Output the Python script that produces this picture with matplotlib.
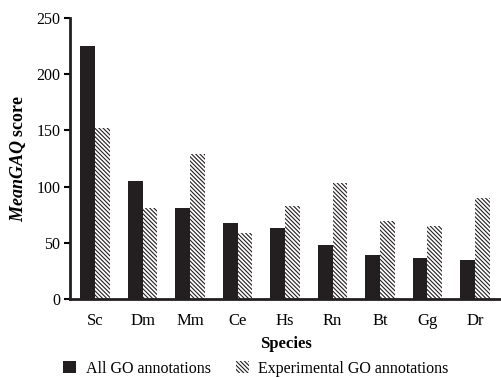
import matplotlib
matplotlib.use("Agg")
import matplotlib.pyplot as plt
import numpy as np
from matplotlib.patches import Patch

plt.rcParams['font.family'] = ['Liberation Serif', 'DejaVu Serif']
plt.rcParams['mathtext.fontset'] = 'custom'
plt.rcParams['mathtext.it'] = 'Liberation Serif:italic:bold'
plt.rcParams['mathtext.rm'] = 'Liberation Serif:bold'
plt.rcParams['hatch.linewidth'] = 0.8

species = ["Sc", "Dm", "Mm", "Ce", "Hs", "Rn", "Bt", "Gg", "Dr"]
all_go = [225, 105, 81, 68, 63, 48, 39, 36.5, 35]
exp_go = [152, 81, 129, 59, 83, 103, 69, 65, 90]
series_names = ["All GO annotations", "Experimental GO annotations"]
yticks = [0, 50, 100, 150, 200, 250]

dark = '#231f20'
HATCH = '\\' * 8

fig = plt.figure(figsize=(5.02, 3.77), dpi=100)
ax = fig.add_axes([70/502, 1-299/377, 1-70/502, (299-18)/377])

x = np.arange(len(species))
w = 0.31
ax.bar(x - w/2, all_go, width=w, color=dark, edgecolor=dark, linewidth=0)
ax.bar(x + w/2, exp_go, width=w, color='white', edgecolor=dark, linewidth=0, hatch=HATCH)

ax.set_xlim(-0.53, 8.57)
ax.set_ylim(0, 250)
ax.set_yticks(yticks)
ax.set_xticks(x)
ax.set_xticklabels(species, fontsize=12)
ax.tick_params(axis='x', length=0, pad=10)
ax.tick_params(axis='y', labelsize=11.5, length=4, width=1.5, direction='out', pad=3)
for s in ['top', 'right']:
    ax.spines[s].set_visible(False)
for s in ['left', 'bottom']:
    ax.spines[s].set_linewidth(2)
    ax.spines[s].set_color(dark)

ax.set_xlabel("Species", fontsize=12, fontweight='bold', labelpad=5)
ax.set_ylabel(r"$\mathit{MeanGAQ}$ score", fontsize=13, fontweight='bold', labelpad=6)

handles = [Patch(facecolor=dark, edgecolor=dark, linewidth=0),
           Patch(facecolor='white', edgecolor=dark, linewidth=0, hatch=HATCH)]
fig.legend(handles, series_names, loc='center', bbox_to_anchor=(0.51, 0.022), ncol=2,
           frameon=False, fontsize=11.5, handlelength=0.8, handleheight=0.8,
           handletextpad=0.6, columnspacing=1.6, borderpad=0)

fig.savefig("out.png", dpi=100)
